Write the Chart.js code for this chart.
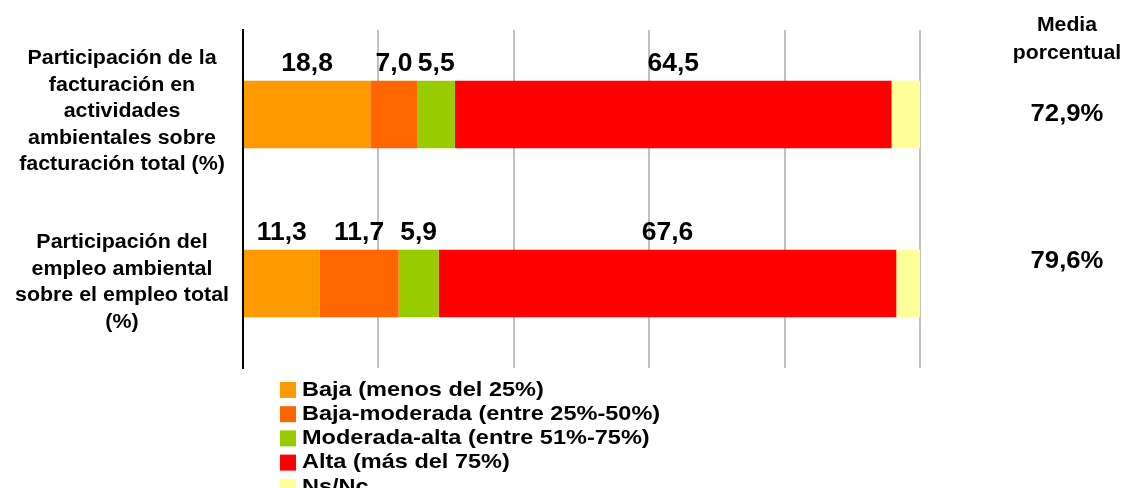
<!DOCTYPE html>
<html>
<head>
<meta charset="utf-8">
<script src="https://cdn.jsdelivr.net/npm/chart.js@4.4.1/dist/chart.umd.min.js"></script>
<style>
  html, body { margin: 0; padding: 0; background: #fff; }
  #wrap { position: relative; width: 1125px; height: 488px; overflow: hidden; }
</style>
</head>
<body>
<div id="wrap"><canvas id="chart" width="1125" height="488"></canvas></div>
<script>
const categories = [
  ["Participación de la", "facturación en", "actividades", "ambientales sobre", "facturación total (%)"],
  ["Participación del", "empleo ambiental", "sobre el empleo total", "(%)"],
];
const seriesLabels = [
  "Baja (menos del 25%)",
  "Baja-moderada (entre 25%-50%)",
  "Moderada-alta (entre 51%-75%)",
  "Alta (más del 75%)",
  "Ns/Nc",
];
const seriesColors = ["#FF9900", "#FF6600", "#99CC00", "#FF0000", "#FFFF99"];
const baja = [18.8, 11.3];
const bajaModerada = [7.0, 11.7];
const moderadaAlta = [5.5, 5.9];
const alta = [64.5, 67.6];
const nsnc = [4.2, 3.5];
const mediaPorcentual = [72.9, 79.6];

const FONT = "'Liberation Sans', Arial, sans-serif";
const fmt = (v) => v.toFixed(1).replace(".", ",");

const seriesValues = [baja, bajaModerada, moderadaAlta, alta, nsnc];

// the original text is slightly wider than Arial, so stretch it a bit
function wideText(ctx, text, x, y, sx) {
  ctx.save();
  ctx.translate(x, y);
  ctx.scale(sx, 1);
  ctx.fillText(text, 0, 0);
  ctx.restore();
}

const annotations = {
  id: "annotations",
  afterDatasetsDraw(chart) {
    const { ctx } = chart;
    const yScale = chart.scales.y;
    ctx.save();
    ctx.fillStyle = "#000";

    // value labels above each segment (not for Ns/Nc)
    ctx.font = `bold 25px ${FONT}`;
    ctx.textAlign = "center";
    ctx.textBaseline = "bottom";
    chart.data.datasets.forEach((ds, di) => {
      if (di === chart.data.datasets.length - 1) return;
      chart.getDatasetMeta(di).data.forEach((bar, i) => {
        const cx = (bar.x + bar.base) / 2;
        wideText(ctx, fmt(ds.data[i]), cx, bar.y - bar.height / 2 - 4, 1.06);
      });
    });

    // category labels on the left
    ctx.font = `bold 20px ${FONT}`;
    ctx.textBaseline = "middle";
    const lh = 26.5;
    const shift = [-3, -1];
    categories.forEach((lines, i) => {
      const cy = yScale.getPixelForValue(i) + shift[i];
      const y0 = cy - ((lines.length - 1) * lh) / 2;
      lines.forEach((t, k) => wideText(ctx, t, 122, y0 + k * lh, 1.07));
    });

    // media porcentual column
    ctx.font = `bold 20px ${FONT}`;
    wideText(ctx, "Media", 1067, 25, 1.06);
    wideText(ctx, "porcentual", 1067, 53, 1.06);
    ctx.font = `bold 24px ${FONT}`;
    const mediaShift = [0, -22];
    mediaPorcentual.forEach((v, i) => {
      const cy = yScale.getPixelForValue(i) + mediaShift[i];
      wideText(ctx, fmt(v) + "%", 1067, cy, 1.07);
    });

    // legend, stacked vertically below the plot
    ctx.font = `bold 21px ${FONT}`;
    ctx.textAlign = "left";
    chart.data.datasets.forEach((ds, i) => {
      const top = 382 + i * 24.2;
      ctx.fillStyle = ds.backgroundColor;
      ctx.fillRect(280, top, 16, 16);
      ctx.fillStyle = "#000";
      wideText(ctx, ds.label, 302, top + 8, 1.12);
    });
    ctx.restore();
  },
};

new Chart(document.getElementById("chart"), {
  type: "bar",
  data: {
    labels: categories.map((c) => c.join(" ")),
    datasets: seriesLabels.map((label, i) => ({
      label,
      data: seriesValues[i],
      backgroundColor: seriesColors[i],
      borderWidth: 0,
      categoryPercentage: 0.4,
      barPercentage: 1,
    })),
  },
  options: {
    indexAxis: "y",
    responsive: false,
    animation: false,
    layout: { padding: { left: 243, right: 205, top: 30, bottom: 120 } },
    plugins: { legend: { display: false }, tooltip: { enabled: false } },
    scales: {
      x: {
        stacked: true,
        min: 0,
        max: 100,
        ticks: { display: false, stepSize: 20 },
        grid: { color: "#c0c0c0", lineWidth: 2, drawTicks: false },
        border: { display: false },
      },
      y: {
        stacked: true,
        ticks: { display: false },
        grid: { display: false, drawTicks: false },
        border: { display: true, color: "#000", width: 2 },
      },
    },
  },
  plugins: [annotations],
});
</script>
</body>
</html>
